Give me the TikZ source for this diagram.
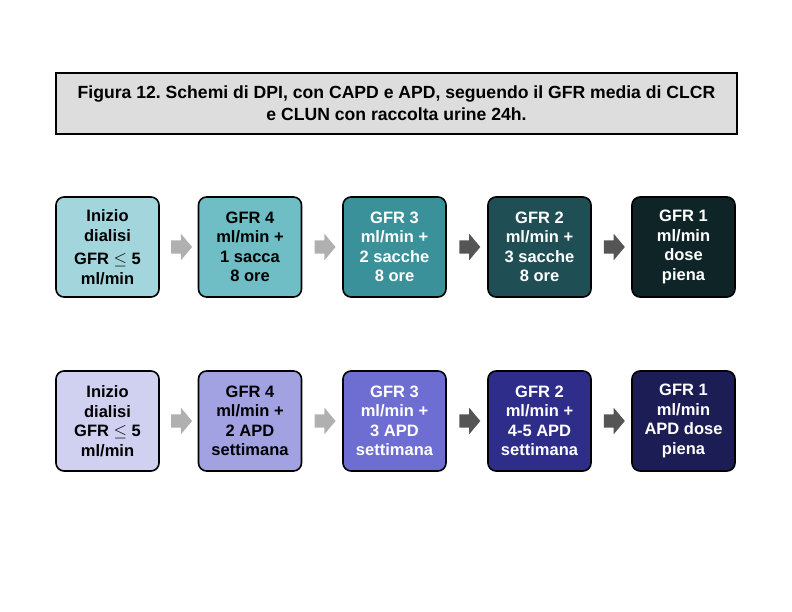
\documentclass[tikz,border=0pt]{standalone}
\usepackage{fontspec}
\setmainfont{Liberation Sans}
\usetikzlibrary{shapes.arrows,calc}

\definecolor{capdA}{RGB}{163,214,220}
\definecolor{capdB}{RGB}{111,190,198}
\definecolor{capdC}{RGB}{58,145,153}
\definecolor{capdD}{RGB}{31,79,85}
\definecolor{capdE}{RGB}{15,36,38}
\definecolor{apdA}{RGB}{208,208,240}
\definecolor{apdB}{RGB}{162,162,226}
\definecolor{apdC}{RGB}{110,110,210}
\definecolor{apdD}{RGB}{46,46,138}
\definecolor{apdE}{RGB}{29,29,85}
\definecolor{titlegray}{RGB}{221,221,221}
\definecolor{arrowlt}{RGB}{176,176,176}
\definecolor{arrowdk}{RGB}{85,85,85}

\tikzset{
	stepbox/.style={draw=black, line width=1.6pt, rounded corners=8pt, minimum width=103pt, minimum height=100pt, inner sep=2pt, align=center, font=\fontsize{16.5}{19.5}\selectfont\bfseries},
	titlebox/.style={draw=black, line width=1.2pt, fill=titlegray, minimum width=681pt, minimum height=61pt, align=center, font=\fontsize{17.6}{22}\selectfont\bfseries},
	blockarrow/.style={single arrow, minimum height=21pt, inner sep=6.5pt, single arrow head extend=6.5pt, single arrow tip angle=100},
}

\begin{document}
\begin{tikzpicture}[x=1pt,y=1pt,yscale=-1,xscale=1]
	\useasboundingbox (0,0) rectangle (792,612);

	% Title
	\node[titlebox] (title) at (396.5,103.5) {Figura 12.\ Schemi di DPI, con CAPD e APD, seguendo il GFR media di CLCR\\e CLUN con raccolta urine 24h.};

	% CAPD row
	\node[stepbox, fill=capdA] (capd1) at (107.5,247) {Inizio\\dialisi\\[4pt]GFR $\leq$ 5\\ml/min};
	\node[stepbox, fill=capdB] (capd2) at (250,247) {GFR 4\\ml/min +\\1 sacca\\8 ore};
	\node[stepbox, fill=capdC, text=white] (capd3) at (394.5,247) {GFR 3\\ml/min +\\2 sacche\\8 ore};
	\node[stepbox, fill=capdD, text=white] (capd4) at (539.5,247) {GFR 2\\ml/min +\\3 sacche\\8 ore};
	\node[stepbox, fill=capdE, text=white] (capd5) at (683.5,247) {GFR 1\\ml/min\\dose\\piena};

	% APD row
	\node[stepbox, fill=apdA] (apd1) at (107.5,421) {Inizio\\dialisi\\GFR $\leq$ 5\\ml/min};
	\node[stepbox, fill=apdB] (apd2) at (250,421) {GFR 4\\ml/min +\\2 APD\\settimana};
	\node[stepbox, fill=apdC, text=white] (apd3) at (394.5,421) {GFR 3\\ml/min +\\3 APD\\settimana};
	\node[stepbox, fill=apdD, text=white] (apd4) at (539.5,421) {GFR 2\\ml/min +\\4-5 APD\\settimana};
	\node[stepbox, fill=apdE, text=white] (apd5) at (683.5,421) {GFR 1\\ml/min\\APD dose\\piena};

	% Arrows between steps
	\foreach \row in {capd,apd}{
		\node[blockarrow, fill=arrowlt] (\row a1) at ($(\row1.east)!0.5!(\row2.west)$) {};
		\node[blockarrow, fill=arrowlt] (\row a2) at ($(\row2.east)!0.5!(\row3.west)$) {};
		\node[blockarrow, fill=arrowdk] (\row a3) at ($(\row3.east)!0.5!(\row4.west)$) {};
		\node[blockarrow, fill=arrowdk] (\row a4) at ($(\row4.east)!0.5!(\row5.west)$) {};
	}

\end{tikzpicture}
\end{document}
